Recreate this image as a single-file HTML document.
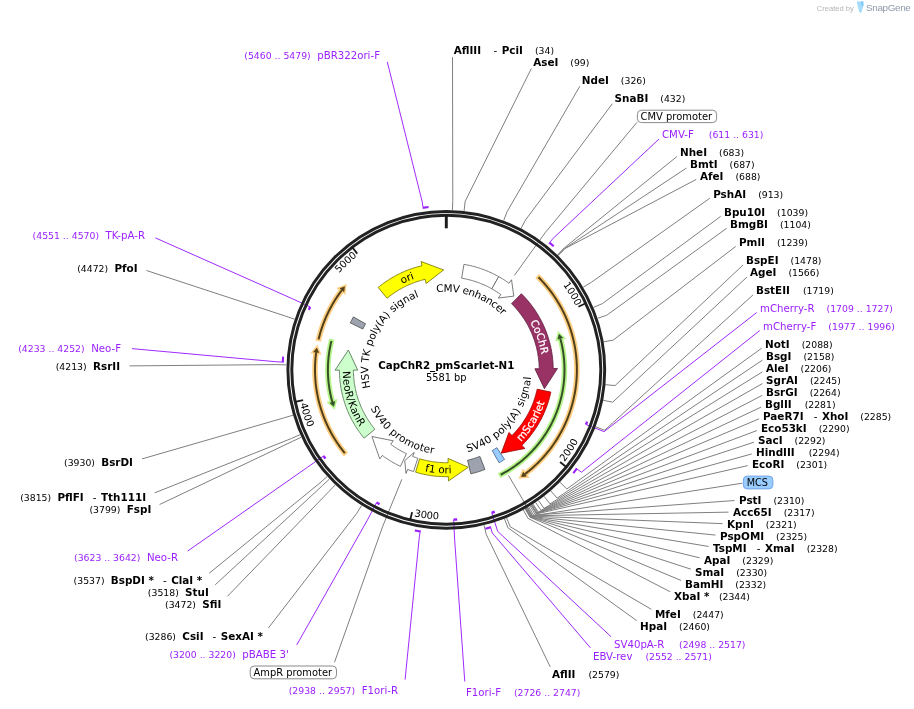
<!DOCTYPE html>
<html lang="en"><head><meta charset="utf-8"><title>CapChR2_pmScarlet-N1 map</title>
<style>html,body{margin:0;padding:0;background:#fff}svg{display:block;will-change:transform}</style></head>
<body>
<svg width="914" height="709" viewBox="0 0 914 709" font-family="'DejaVu Sans','Liberation Sans',sans-serif">
<rect width="914" height="709" fill="#fff"/>
<path d="M452.42,210.04 L452.79,200.42 L452.5,57.2" fill="none" stroke="#7f7f7f" stroke-width="1" stroke-linejoin="round"/>
<path d="M464.08,210.92 L465.15,201.35 L531.36,68.47" fill="none" stroke="#7f7f7f" stroke-width="1" stroke-linejoin="round"/>
<path d="M503.67,220.57 L507.12,211.59 L579.8,86.26" fill="none" stroke="#7f7f7f" stroke-width="1" stroke-linejoin="round"/>
<path d="M521.03,228.46 L525.53,219.95 L612.25,103.81" fill="none" stroke="#7f7f7f" stroke-width="1" stroke-linejoin="round"/>
<path d="M548.9,243.53 L553.19,238.25 L659.08,138.98" fill="none" stroke="#9a1fff" stroke-width="0.95" stroke-linejoin="round"/>
<path d="M557.47,254.91 L564.17,247.99 L676.84,156.59" fill="none" stroke="#7f7f7f" stroke-width="1" stroke-linejoin="round"/>
<path d="M557.99,255.41 L564.71,248.52 L686.53,168.03" fill="none" stroke="#7f7f7f" stroke-width="1" stroke-linejoin="round"/>
<path d="M558.12,255.53 L564.85,248.65 L696.24,179.41" fill="none" stroke="#7f7f7f" stroke-width="1" stroke-linejoin="round"/>
<path d="M583.19,287.2 L591.43,282.23 L709.84,198.22" fill="none" stroke="#7f7f7f" stroke-width="1" stroke-linejoin="round"/>
<path d="M593.49,307.38 L602.35,303.63 L720.69,216.33" fill="none" stroke="#7f7f7f" stroke-width="1" stroke-linejoin="round"/>
<path d="M597.66,318.31 L606.77,315.21 L726.67,228.28" fill="none" stroke="#7f7f7f" stroke-width="1" stroke-linejoin="round"/>
<path d="M603.71,341.82 L613.18,340.14 L735.75,246.43" fill="none" stroke="#7f7f7f" stroke-width="1" stroke-linejoin="round"/>
<path d="M605.48,384.67 L615.06,385.57 L743.08,264.98" fill="none" stroke="#7f7f7f" stroke-width="1" stroke-linejoin="round"/>
<path d="M603.23,400.34 L612.68,402.18 L747.06,276.95" fill="none" stroke="#7f7f7f" stroke-width="1" stroke-linejoin="round"/>
<path d="M595.67,426.79 L604.67,430.22 L753.02,294.89" fill="none" stroke="#7f7f7f" stroke-width="1" stroke-linejoin="round"/>
<path d="M585.68,424.42 L604.11,431.64 L756.77,312.47" fill="none" stroke="#9a1fff" stroke-width="0.95" stroke-linejoin="round"/>
<path d="M575.94,468.11 L581.36,472.22 L759.8,330.51" fill="none" stroke="#9a1fff" stroke-width="0.95" stroke-linejoin="round"/>
<path d="M559.97,482.23 L566.81,488.99 L761.65,348.25" fill="none" stroke="#7f7f7f" stroke-width="1" stroke-linejoin="round"/>
<path d="M550.76,490.83 L557.05,498.11 L762.54,360.05" fill="none" stroke="#7f7f7f" stroke-width="1" stroke-linejoin="round"/>
<path d="M544.07,496.29 L549.96,503.91 L762.44,371.83" fill="none" stroke="#7f7f7f" stroke-width="1" stroke-linejoin="round"/>
<path d="M538.43,500.46 L543.97,508.33 L762.33,383.6" fill="none" stroke="#7f7f7f" stroke-width="1" stroke-linejoin="round"/>
<path d="M535.61,502.4 L540.99,510.39 L762.22,395.35" fill="none" stroke="#7f7f7f" stroke-width="1" stroke-linejoin="round"/>
<path d="M533.06,504.09 L538.28,512.17 L761.11,407.1" fill="none" stroke="#7f7f7f" stroke-width="1" stroke-linejoin="round"/>
<path d="M532.45,504.48 L537.64,512.58 L759.01,418.84" fill="none" stroke="#7f7f7f" stroke-width="1" stroke-linejoin="round"/>
<path d="M531.69,504.96 L536.83,513.1 L756.92,430.56" fill="none" stroke="#7f7f7f" stroke-width="1" stroke-linejoin="round"/>
<path d="M531.39,505.15 L536.51,513.3 L753.83,442.26" fill="none" stroke="#7f7f7f" stroke-width="1" stroke-linejoin="round"/>
<path d="M531.08,505.34 L536.19,513.5 L751.74,453.94" fill="none" stroke="#7f7f7f" stroke-width="1" stroke-linejoin="round"/>
<path d="M530.01,506.01 L535.05,514.21 L747.67,465.62" fill="none" stroke="#7f7f7f" stroke-width="1" stroke-linejoin="round"/>
<path d="M528.63,506.85 L533.58,515.1 L734.52,500.53" fill="none" stroke="#7f7f7f" stroke-width="1" stroke-linejoin="round"/>
<path d="M527.55,507.49 L532.44,515.78 L728.5,512.14" fill="none" stroke="#7f7f7f" stroke-width="1" stroke-linejoin="round"/>
<path d="M526.92,507.86 L531.78,516.17 L722.51,523.64" fill="none" stroke="#7f7f7f" stroke-width="1" stroke-linejoin="round"/>
<path d="M526.3,508.22 L531.12,516.55 L715.53,535.08" fill="none" stroke="#7f7f7f" stroke-width="1" stroke-linejoin="round"/>
<path d="M525.83,508.49 L530.62,516.84 L708.59,546.48" fill="none" stroke="#7f7f7f" stroke-width="1" stroke-linejoin="round"/>
<path d="M525.68,508.58 L530.46,516.93 L699.69,557.83" fill="none" stroke="#7f7f7f" stroke-width="1" stroke-linejoin="round"/>
<path d="M525.52,508.67 L530.29,517.03 L690.83,569.15" fill="none" stroke="#7f7f7f" stroke-width="1" stroke-linejoin="round"/>
<path d="M525.21,508.84 L529.96,517.22 L681.02,580.44" fill="none" stroke="#7f7f7f" stroke-width="1" stroke-linejoin="round"/>
<path d="M523.32,509.9 L527.96,518.33 L670.23,591.77" fill="none" stroke="#7f7f7f" stroke-width="1" stroke-linejoin="round"/>
<path d="M506.6,517.87 L510.23,526.78 L651.38,609.36" fill="none" stroke="#7f7f7f" stroke-width="1" stroke-linejoin="round"/>
<path d="M504.42,518.74 L507.92,527.7 L636.68,620.63" fill="none" stroke="#7f7f7f" stroke-width="1" stroke-linejoin="round"/>
<path d="M491.67,512.46 L497.67,531.33 L611.1,636.69" fill="none" stroke="#9a1fff" stroke-width="0.95" stroke-linejoin="round"/>
<path d="M490.42,526.4 L492.26,532.95 L590.48,647.88" fill="none" stroke="#9a1fff" stroke-width="0.95" stroke-linejoin="round"/>
<path d="M484.01,525.16 L486.28,534.52 L550.2,666.8" fill="none" stroke="#7f7f7f" stroke-width="1" stroke-linejoin="round"/>
<path d="M453.63,519.32 L454.6,539.1 L464.78,681.53" fill="none" stroke="#9a1fff" stroke-width="0.95" stroke-linejoin="round"/>
<path d="M423.22,208.75 L422.26,202.01 L387.31,61.92" fill="none" stroke="#9a1fff" stroke-width="0.95" stroke-linejoin="round"/>
<path d="M310.39,307.04 L292.41,298.74 L155.37,237.86" fill="none" stroke="#9a1fff" stroke-width="0.95" stroke-linejoin="round"/>
<path d="M294.66,319.17 L285.53,316.12 L146.49,270.51" fill="none" stroke="#7f7f7f" stroke-width="1" stroke-linejoin="round"/>
<path d="M283.78,362.14 L276.99,361.82 L131.97,348.64" fill="none" stroke="#9a1fff" stroke-width="0.95" stroke-linejoin="round"/>
<path d="M286.5,364.9 L276.88,364.6 L129.5,365.9" fill="none" stroke="#7f7f7f" stroke-width="1" stroke-linejoin="round"/>
<path d="M293.01,415.2 L283.78,417.93 L141.99,458.91" fill="none" stroke="#7f7f7f" stroke-width="1" stroke-linejoin="round"/>
<path d="M300.15,434.61 L291.35,438.51 L154.59,492.89" fill="none" stroke="#7f7f7f" stroke-width="1" stroke-linejoin="round"/>
<path d="M301.34,437.23 L292.61,441.29 L159.58,504.53" fill="none" stroke="#7f7f7f" stroke-width="1" stroke-linejoin="round"/>
<path d="M323.78,455.82 L307.58,467.2 L187.7,551.02" fill="none" stroke="#9a1fff" stroke-width="0.95" stroke-linejoin="round"/>
<path d="M327.21,476.46 L320.04,482.88 L209.16,573.29" fill="none" stroke="#7f7f7f" stroke-width="1" stroke-linejoin="round"/>
<path d="M329.51,478.98 L322.48,485.56 L215.25,584.77" fill="none" stroke="#7f7f7f" stroke-width="1" stroke-linejoin="round"/>
<path d="M335.32,484.88 L328.64,491.81 L227.4,596.34" fill="none" stroke="#7f7f7f" stroke-width="1" stroke-linejoin="round"/>
<path d="M361.67,505.44 L356.57,513.6 L268.4,628" fill="none" stroke="#7f7f7f" stroke-width="1" stroke-linejoin="round"/>
<path d="M376.7,502.34 L367.5,519.87 L296.73,644.95" fill="none" stroke="#9a1fff" stroke-width="0.95" stroke-linejoin="round"/>
<path d="M420.39,530.42 L419.3,537.14 L405.08,679.6" fill="none" stroke="#9a1fff" stroke-width="0.95" stroke-linejoin="round"/>
<path d="M514.33,275.47 L545.45,232.32 L637,122.3" fill="none" stroke="#7f7f7f" stroke-width="1" stroke-linejoin="round"/>
<path d="M508.52,475.44 L532.33,515.85 L742.3,483.2" fill="none" stroke="#7f7f7f" stroke-width="1" stroke-linejoin="round"/>
<path d="M401.83,479.32 L382.53,526.85 L334.5,662.3" fill="none" stroke="#7f7f7f" stroke-width="1" stroke-linejoin="round"/>
<circle cx="446.3" cy="369.8" r="158.4" fill="none" stroke="#222222" stroke-width="2.95"/>
<circle cx="446.3" cy="369.8" r="154.5" fill="none" stroke="#222222" stroke-width="2.95"/>
<path d="M446.3,215.3 L446.3,228.3" stroke="#1a1a1a" stroke-width="2.9"/>
<path d="M585.75,303.3 L578.44,306.78" stroke="#1a1a1a" stroke-width="1.8"/>
<path id="tp1" d="M432.23,226.19 A144.3,144.3 0 0 1 566.75,449.26" fill="none"/>
<text font-size="9.9" fill="#000" font-weight="normal" text-anchor="middle"><textPath href="#tp1" startOffset="50%">1000</textPath></text>
<path d="M566.35,467.05 L560.06,461.95" stroke="#1a1a1a" stroke-width="1.8"/>
<path id="tp2" d="M426.4,518.37 A149.9,149.9 0 0 0 574.28,291.75" fill="none"/>
<text font-size="9.9" fill="#000" font-weight="normal" text-anchor="middle"><textPath href="#tp2" startOffset="50%">2000</textPath></text>
<path d="M410.2,520.02 L412.09,512.15" stroke="#1a1a1a" stroke-width="1.8"/>
<path id="tp3" d="M303.63,415.79 A149.9,149.9 0 0 0 571.84,451.72" fill="none"/>
<text font-size="9.9" fill="#000" font-weight="normal" text-anchor="middle"><textPath href="#tp3" startOffset="50%">3000</textPath></text>
<path d="M295.17,401.87 L303.09,400.19" stroke="#1a1a1a" stroke-width="1.8"/>
<path id="tp4" d="M343.38,260.82 A149.9,149.9 0 0 0 426.4,518.37" fill="none"/>
<text font-size="9.9" fill="#000" font-weight="normal" text-anchor="middle"><textPath href="#tp4" startOffset="50%">4000</textPath></text>
<path d="M352.3,247.19 L357.22,253.62" stroke="#1a1a1a" stroke-width="1.8"/>
<path id="tp5" d="M308.74,413.38 A144.3,144.3 0 0 1 499.03,235.48" fill="none"/>
<text font-size="9.9" fill="#000" font-weight="normal" text-anchor="middle"><textPath href="#tp5" startOffset="50%">5000</textPath></text>
<path d="M549.53,242.75 L550.24,243.33 L550.95,243.92 L551.65,244.5 L552.35,245.1 L553.05,245.69 L553.74,246.29" fill="none" stroke="#9a1fff" stroke-width="2.1"/>
<path d="M585.96,424.53 L586.23,423.82 L586.51,423.11 L586.77,422.4 L587.04,421.69" fill="none" stroke="#9a1fff" stroke-width="2.4"/>
<path d="M576.73,468.72 L576.18,469.45 L575.62,470.17 L575.05,470.89 L574.49,471.61 L573.91,472.33 L573.34,473.04" fill="none" stroke="#9a1fff" stroke-width="2.1"/>
<path d="M491.76,512.75 L492.52,512.5 L493.29,512.25 L494.05,512 L494.81,511.74" fill="none" stroke="#9a1fff" stroke-width="2.4"/>
<path d="M490.69,527.37 L489.81,527.61 L488.92,527.85 L488.04,528.09 L487.15,528.32 L486.26,528.55 L485.37,528.77" fill="none" stroke="#9a1fff" stroke-width="2.1"/>
<path d="M453.64,519.62 L454.35,519.58 L455.06,519.54 L455.77,519.5 L456.48,519.45 L457.18,519.4" fill="none" stroke="#9a1fff" stroke-width="2.4"/>
<path d="M423.08,207.76 L423.99,207.63 L424.9,207.51 L425.8,207.39 L426.71,207.28 L427.63,207.17 L428.54,207.07" fill="none" stroke="#9a1fff" stroke-width="2.1"/>
<path d="M310.12,306.92 L309.78,307.64 L309.45,308.38 L309.13,309.11 L308.8,309.84" fill="none" stroke="#9a1fff" stroke-width="2.4"/>
<path d="M282.78,362.09 L282.83,361.18 L282.88,360.26 L282.93,359.35 L283,358.43 L283.06,357.52 L283.13,356.61" fill="none" stroke="#9a1fff" stroke-width="2.1"/>
<path d="M323.54,456 L324,456.65 L324.47,457.3 L324.94,457.95 L325.41,458.6" fill="none" stroke="#9a1fff" stroke-width="2.4"/>
<path d="M376.56,502.6 L377.16,502.92 L377.76,503.23 L378.36,503.53 L378.97,503.84 L379.57,504.14" fill="none" stroke="#9a1fff" stroke-width="2.4"/>
<path d="M420.23,531.41 L419.32,531.26 L418.42,531.11 L417.52,530.95 L416.61,530.79 L415.71,530.62 L414.81,530.44" fill="none" stroke="#9a1fff" stroke-width="2.1"/>
<path d="M463.94,264.37 L465.35,264.61 L466.75,264.87 L468.14,265.16 L469.54,265.46 L470.92,265.77 L472.31,266.11 L473.69,266.47 L475.06,266.84 L476.43,267.23 L477.79,267.64 L479.15,268.07 L480.51,268.52 L481.85,268.99 L483.19,269.47 L484.53,269.97 L485.85,270.49 L487.17,271.02 L488.48,271.58 L489.79,272.15 L491.09,272.73 L492.38,273.34 L493.66,273.96 L494.93,274.6 L496.19,275.26 L497.45,275.93 L498.7,276.62 L491.83,288.82 L490.75,288.22 L489.66,287.64 L488.56,287.07 L487.46,286.51 L486.34,285.97 L485.22,285.45 L484.09,284.94 L482.96,284.44 L481.82,283.96 L480.67,283.49 L479.52,283.04 L478.36,282.61 L477.2,282.19 L476.03,281.78 L474.85,281.4 L473.67,281.02 L472.48,280.67 L471.29,280.33 L470.1,280 L468.9,279.69 L467.7,279.4 L466.49,279.12 L465.28,278.86 L464.07,278.62 L462.85,278.39 L461.63,278.17Z" fill="#ffffff" stroke="#5a5a5a" stroke-width="0.8" stroke-linejoin="miter"/>
<path d="M498.7,276.62 L499.88,277.3 L501.06,277.99 L502.22,278.69 L503.38,279.41 L504.53,280.15 L505.66,280.9 L506.79,281.66 L507.91,282.44 L509.02,283.23 L511.54,279.75 L513.79,296.15 L498.28,298.05 L500.81,294.57 L499.84,293.88 L498.87,293.21 L497.89,292.54 L496.9,291.89 L495.9,291.25 L494.9,290.63 L493.88,290.01 L492.86,289.41 L491.83,288.82Z" fill="#ffffff" stroke="#5a5a5a" stroke-width="0.8" stroke-linejoin="miter"/>
<path d="M521.36,293.68 L522.38,294.7 L523.38,295.73 L524.37,296.78 L525.35,297.83 L526.31,298.9 L527.25,299.99 L528.19,301.08 L529.1,302.19 L530.01,303.31 L530.89,304.44 L531.76,305.59 L532.62,306.74 L533.46,307.91 L534.29,309.09 L535.1,310.28 L535.89,311.48 L536.66,312.69 L537.42,313.91 L538.17,315.14 L538.9,316.38 L539.61,317.63 L540.3,318.89 L540.98,320.16 L541.64,321.44 L542.28,322.73 L542.9,324.02 L543.51,325.33 L544.1,326.64 L544.67,327.96 L545.22,329.28 L545.76,330.62 L546.28,331.96 L546.78,333.31 L547.26,334.67 L547.72,336.03 L548.17,337.39 L548.6,338.77 L549.01,340.15 L549.39,341.53 L549.77,342.92 L550.12,344.32 L550.45,345.72 L550.77,347.12 L551.06,348.53 L551.34,349.94 L551.6,351.35 L551.84,352.77 L552.05,354.19 L552.26,355.62 L552.44,357.04 L552.6,358.47 L552.74,359.91 L552.86,361.34 L552.97,362.77 L553.05,364.21 L553.12,365.65 L553.17,367.08 L553.19,368.52 L557.49,368.47 L544.4,388.69 L534.89,368.74 L539.19,368.69 L539.17,367.44 L539.13,366.19 L539.07,364.94 L539,363.69 L538.91,362.45 L538.8,361.2 L538.68,359.96 L538.54,358.72 L538.38,357.48 L538.2,356.24 L538.01,355 L537.81,353.77 L537.58,352.54 L537.34,351.31 L537.08,350.09 L536.81,348.87 L536.52,347.65 L536.22,346.44 L535.89,345.23 L535.55,344.03 L535.2,342.83 L534.83,341.64 L534.44,340.45 L534.04,339.27 L533.62,338.09 L533.19,336.92 L532.74,335.75 L532.27,334.59 L531.79,333.44 L531.29,332.29 L530.78,331.15 L530.25,330.02 L529.71,328.89 L529.15,327.77 L528.58,326.66 L527.99,325.56 L527.39,324.46 L526.77,323.38 L526.14,322.3 L525.49,321.23 L524.83,320.17 L524.16,319.11 L523.47,318.07 L522.76,317.04 L522.05,316.01 L521.32,315 L520.57,314 L519.81,313 L519.04,312.02 L518.26,311.04 L517.46,310.08 L516.65,309.13 L515.83,308.19 L514.99,307.26 L514.15,306.34 L513.29,305.43 L512.41,304.54 L511.53,303.65Z" fill="#993366" stroke="#5a1a3a" stroke-width="0.8" stroke-linejoin="miter"/>
<path d="M550.84,392.12 L550.54,393.51 L550.21,394.91 L549.86,396.29 L549.5,397.68 L549.12,399.06 L548.72,400.43 L548.3,401.8 L547.86,403.16 L547.41,404.51 L546.93,405.86 L546.44,407.21 L545.93,408.54 L545.4,409.87 L544.86,411.2 L544.3,412.51 L543.72,413.82 L543.12,415.12 L542.5,416.41 L541.87,417.69 L541.22,418.97 L540.56,420.23 L539.87,421.49 L539.17,422.74 L538.46,423.97 L537.72,425.2 L536.97,426.42 L536.21,427.63 L535.43,428.83 L534.63,430.01 L533.82,431.19 L532.99,432.36 L532.14,433.51 L531.28,434.65 L530.41,435.78 L529.52,436.9 L528.61,438.01 L527.69,439.11 L526.76,440.19 L525.81,441.26 L524.84,442.32 L523.87,443.36 L522.88,444.39 L521.87,445.41 L524.91,448.45 L501.29,453.2 L508.93,432.47 L511.97,435.51 L512.85,434.62 L513.71,433.73 L514.56,432.82 L515.39,431.9 L516.22,430.97 L517.03,430.03 L517.83,429.08 L518.62,428.11 L519.39,427.14 L520.15,426.16 L520.9,425.17 L521.63,424.16 L522.35,423.15 L523.06,422.13 L523.75,421.1 L524.43,420.05 L525.1,419 L525.75,417.95 L526.39,416.88 L527.01,415.8 L527.62,414.72 L528.21,413.63 L528.79,412.53 L529.36,411.42 L529.9,410.3 L530.44,409.18 L530.96,408.05 L531.46,406.92 L531.95,405.77 L532.43,404.63 L532.88,403.47 L533.33,402.31 L533.75,401.14 L534.17,399.97 L534.56,398.79 L534.94,397.61 L535.31,396.42 L535.65,395.22 L535.99,394.03 L536.3,392.82 L536.6,391.62 L536.89,390.41 L537.15,389.19Z" fill="#ff0000" stroke="#9a0000" stroke-width="0.8" stroke-linejoin="miter"/>
<path d="M504.52,459.45 L503.45,460.14 L502.38,460.81 L501.29,461.47 L500.2,462.12 L499.1,462.75 L492.19,450.58 L493.14,450.03 L494.09,449.46 L495.03,448.89 L495.97,448.31 L496.9,447.71Z" fill="#99ccff" stroke="#3f5f80" stroke-width="0.8" stroke-linejoin="miter"/>
<path d="M484.96,469.47 L483.7,469.95 L482.43,470.41 L481.16,470.86 L479.88,471.29 L478.6,471.7 L477.31,472.1 L476.02,472.49 L474.72,472.85 L473.42,473.2 L472.11,473.54 L470.8,473.85 L467.59,460.23 L468.73,459.95 L469.87,459.66 L471,459.36 L472.13,459.04 L473.25,458.71 L474.37,458.36 L475.48,458 L476.59,457.62 L477.7,457.23 L478.8,456.83 L479.89,456.41Z" fill="#9da3ae" stroke="#4a4a4a" stroke-width="0.8" stroke-linejoin="miter"/>
<path d="M415.58,472.19 L416.91,472.58 L418.24,472.95 L419.58,473.31 L420.93,473.64 L422.27,473.96 L423.62,474.27 L424.98,474.55 L426.34,474.82 L427.7,475.07 L429.07,475.3 L430.43,475.52 L431.81,475.71 L433.18,475.89 L434.55,476.05 L435.93,476.2 L437.31,476.32 L438.69,476.43 L440.07,476.52 L441.46,476.59 L442.84,476.64 L444.23,476.68 L445.61,476.7 L446.99,476.7 L448.38,476.68 L448.46,480.98 L468.26,467.26 L448.02,458.38 L448.11,462.68 L446.9,462.7 L445.7,462.7 L444.5,462.68 L443.29,462.65 L442.09,462.6 L440.89,462.54 L439.69,462.46 L438.49,462.37 L437.29,462.26 L436.09,462.14 L434.9,462 L433.7,461.84 L432.51,461.67 L431.32,461.48 L430.14,461.28 L428.95,461.07 L427.77,460.83 L426.59,460.59 L425.42,460.32 L424.25,460.05 L423.08,459.75 L421.92,459.44 L420.76,459.12 L419.6,458.78Z" fill="#ffff00" stroke="#6f6f00" stroke-width="0.8" stroke-linejoin="miter"/>
<path d="M400.45,466.37 L399.18,465.75 L397.91,465.12 L396.66,464.47 L395.41,463.81 L394.17,463.13 L392.95,462.43 L391.73,461.72 L390.52,460.99 L389.32,460.25 L388.13,459.49 L386.95,458.71 L385.78,457.92 L384.62,457.11 L383.48,456.29 L382.34,455.45 L379.77,458.9 L371.94,436.52 L393.29,440.79 L390.72,444.24 L391.7,444.96 L392.7,445.68 L393.71,446.38 L394.72,447.07 L395.75,447.74 L396.78,448.4 L397.82,449.05 L398.88,449.68 L399.93,450.3 L401,450.91 L402.08,451.5 L403.16,452.08 L404.25,452.64 L405.35,453.19 L406.45,453.72Z" fill="#ffffff" stroke="#5a5a5a" stroke-width="0.8" stroke-linejoin="miter"/>
<path d="M413.53,471.55 L412.34,471.16 L411.14,470.75 L409.96,470.33 L408.78,469.9 L407.6,469.45 L406.04,473.46 L404.71,460.63 L414.22,452.39 L412.67,456.4 L413.69,456.79 L414.72,457.17 L415.75,457.53 L416.78,457.89 L417.82,458.23Z" fill="#ffffff" stroke="#5a5a5a" stroke-width="0.8" stroke-linejoin="miter"/>
<path d="M364.11,438.16 L363.21,437.06 L362.32,435.95 L361.45,434.83 L360.6,433.7 L359.76,432.55 L358.93,431.4 L358.12,430.23 L357.33,429.06 L356.55,427.87 L355.78,426.67 L355.04,425.46 L354.31,424.25 L353.59,423.02 L352.89,421.79 L352.21,420.54 L351.54,419.29 L350.9,418.02 L350.26,416.75 L349.65,415.47 L349.05,414.19 L348.47,412.89 L347.91,411.59 L347.36,410.28 L346.83,408.96 L346.32,407.64 L345.83,406.31 L345.35,404.97 L344.89,403.62 L344.45,402.27 L344.03,400.92 L343.63,399.56 L343.24,398.19 L342.87,396.82 L342.52,395.45 L342.19,394.07 L341.88,392.68 L341.58,391.29 L341.31,389.9 L341.05,388.5 L340.81,387.1 L340.59,385.7 L340.39,384.3 L340.2,382.89 L340.04,381.48 L339.89,380.07 L339.77,378.65 L339.66,377.24 L339.57,375.82 L339.5,374.4 L339.45,372.98 L339.41,371.57 L339.4,370.15 L335.1,370.16 L348.37,350.05 L357.7,370.09 L353.4,370.1 L353.41,371.33 L353.44,372.57 L353.49,373.8 L353.55,375.03 L353.63,376.26 L353.72,377.49 L353.83,378.72 L353.96,379.95 L354.1,381.17 L354.26,382.4 L354.43,383.62 L354.63,384.84 L354.83,386.05 L355.06,387.27 L355.3,388.48 L355.55,389.68 L355.82,390.89 L356.11,392.09 L356.42,393.28 L356.74,394.47 L357.07,395.66 L357.42,396.84 L357.79,398.02 L358.17,399.19 L358.57,400.36 L358.98,401.52 L359.41,402.68 L359.86,403.83 L360.32,404.98 L360.79,406.12 L361.28,407.25 L361.79,408.37 L362.31,409.49 L362.84,410.6 L363.39,411.71 L363.95,412.81 L364.53,413.9 L365.12,414.98 L365.73,416.05 L366.35,417.12 L366.99,418.17 L367.64,419.22 L368.3,420.26 L368.98,421.3 L369.67,422.32 L370.37,423.33 L371.09,424.33 L371.82,425.33 L372.57,426.31 L373.32,427.29 L374.09,428.25 L374.87,429.2Z" fill="#ccffcc" stroke="#4a6a4a" stroke-width="0.8" stroke-linejoin="miter"/>
<path d="M350.26,322.85 L350.86,321.65 L351.47,320.46 L352.1,319.27 L352.74,318.09 L353.4,316.92 L365.56,323.84 L364.99,324.86 L364.43,325.89 L363.89,326.92 L363.36,327.96 L362.84,329Z" fill="#9da3ae" stroke="#4a4a4a" stroke-width="0.8" stroke-linejoin="miter"/>
<path d="M378.16,287.43 L379.25,286.54 L380.36,285.66 L381.47,284.8 L382.6,283.95 L383.74,283.12 L384.89,282.3 L386.05,281.5 L387.22,280.71 L388.4,279.94 L389.59,279.18 L390.79,278.44 L392,277.72 L393.22,277.01 L394.45,276.32 L395.69,275.64 L396.94,274.98 L398.19,274.34 L399.46,273.71 L400.73,273.1 L402.01,272.51 L403.3,271.93 L404.59,271.37 L405.89,270.83 L407.2,270.31 L408.52,269.8 L409.84,269.31 L411.17,268.84 L412.51,268.38 L413.85,267.94 L415.2,267.53 L416.55,267.12 L417.91,266.74 L419.27,266.37 L420.64,266.03 L422.01,265.7 L421.03,261.51 L443.6,269.94 L426.17,283.52 L425.19,279.33 L424,279.62 L422.81,279.92 L421.62,280.24 L420.44,280.57 L419.27,280.92 L418.1,281.28 L416.93,281.66 L415.77,282.06 L414.62,282.47 L413.47,282.9 L412.32,283.34 L411.19,283.79 L410.05,284.26 L408.93,284.75 L407.81,285.25 L406.7,285.76 L405.59,286.29 L404.49,286.84 L403.4,287.4 L402.32,287.97 L401.24,288.56 L400.17,289.16 L399.11,289.78 L398.06,290.41 L397.02,291.05 L395.98,291.71 L394.96,292.38 L393.94,293.06 L392.93,293.76 L391.93,294.47 L390.94,295.19 L389.96,295.93 L388.99,296.68 L388.03,297.44 L387.08,298.22Z" fill="#ffff00" stroke="#6f6f00" stroke-width="0.8" stroke-linejoin="miter"/>
<path d="M537.2,276.03 L538.46,277.26 L539.7,278.52 L540.92,279.78 L542.13,281.07 L543.32,282.37 L544.49,283.69 L545.64,285.02 L546.78,286.37 L547.89,287.73 L548.99,289.11 L550.07,290.5 L551.13,291.91 L552.17,293.33 L553.19,294.76 L554.2,296.21 L555.18,297.68 L556.14,299.15 L557.08,300.64 L558.01,302.14 L558.91,303.65 L559.79,305.18 L560.65,306.72 L561.49,308.26 L562.31,309.82 L563.11,311.39 L563.89,312.98 L564.65,314.57 L565.38,316.17 L566.09,317.78 L566.78,319.4 L567.45,321.03 L568.1,322.67 L568.72,324.32 L569.33,325.97 L569.91,327.64 L570.46,329.31 L571,330.99 L571.51,332.67 L572,334.37 L572.47,336.06 L572.91,337.77 L573.33,339.48 L573.73,341.2 L574.1,342.92 L574.45,344.65 L574.78,346.38 L575.09,348.11 L575.37,349.85 L575.62,351.59 L575.86,353.34 L576.07,355.09 L576.26,356.84 L576.42,358.6 L576.56,360.35 L576.67,362.11 L576.77,363.87 L576.83,365.63 L576.88,367.39 L576.9,369.15 L576.9,370.92 L576.87,372.68 L576.82,374.44 L576.74,376.2 L576.64,377.96 L576.52,379.72 L576.38,381.47 L576.21,383.23 L576.02,384.98 L575.8,386.73 L575.56,388.47 L575.29,390.21 L575.01,391.95 L574.7,393.69 L574.36,395.42 L574.01,397.14 L573.63,398.86 L573.22,400.58 L572.79,402.29 L572.34,403.99 L571.87,405.69 L571.38,407.38 L570.86,409.06 L570.32,410.74 L569.75,412.41 L569.17,414.07 L568.56,415.72 L567.93,417.37 L567.28,419.01 L566.6,420.63 L565.9,422.25 L565.19,423.86 L564.45,425.46 L563.68,427.05 L562.9,428.63 L562.1,430.19 L561.27,431.75 L560.42,433.3 L559.56,434.83 L558.67,436.35 L557.76,437.86 L556.83,439.36 L555.89,440.85 L554.92,442.32 L553.93,443.78 L552.92,445.22 L551.89,446.65 L550.85,448.07 L549.78,449.47 L548.7,450.86 L547.59,452.24 L546.47,453.6 L545.33,454.94 L544.18,456.27 L543,457.58 L541.81,458.88 L540.6,460.16 L539.37,461.42 L538.13,462.67 L536.86,463.9 L535.59,465.11 L534.29,466.31 L532.98,467.49 L531.66,468.65 L530.32,469.79 L528.96,470.91 L527.59,472.02 L526.2,473.11 L524.8,474.18" fill="none" stroke="#fdce82" stroke-width="5.5"/>
<path d="M526.3,476.17 L521.4,476.65 L523.3,472.18Z" fill="#fdce82" stroke="#fdce82" stroke-width="3.6" stroke-linejoin="miter" stroke-miterlimit="6"/>
<path d="M538.49,277.29 L539.73,278.54 L540.95,279.81 L542.15,281.1 L543.34,282.4 L544.51,283.71 L545.66,285.05 L546.8,286.39 L547.91,287.76 L549.01,289.14 L550.09,290.53 L551.15,291.94 L552.19,293.36 L553.21,294.79 L554.21,296.24 L555.2,297.7 L556.16,299.18 L557.1,300.67 L558.02,302.17 L558.93,303.68 L559.81,305.21 L560.67,306.74 L561.51,308.29 L562.33,309.85 L563.13,311.42 L563.9,313 L564.66,314.59 L565.39,316.2 L566.1,317.81 L566.79,319.43 L567.46,321.06 L568.11,322.7 L568.73,324.34 L569.34,326 L569.92,327.66 L570.47,329.33 L571.01,331.01 L571.52,332.7 L572.01,334.39 L572.47,336.09 L572.92,337.79 L573.34,339.51 L573.73,341.22 L574.11,342.94 L574.46,344.67 L574.79,346.4 L575.09,348.14 L575.37,349.88 L575.63,351.62 L575.86,353.36 L576.07,355.11 L576.26,356.87 L576.42,358.62 L576.56,360.38 L576.67,362.13 L576.77,363.89 L576.83,365.65 L576.88,367.41 L576.9,369.18 L576.9,370.94 L576.87,372.7 L576.82,374.46 L576.74,376.22 L576.64,377.98 L576.52,379.74 L576.38,381.49 L576.21,383.24 L576.01,385 L575.8,386.74 L575.56,388.49 L575.29,390.23 L575,391.97 L574.69,393.7 L574.36,395.43 L574,397.16 L573.62,398.88 L573.22,400.59 L572.79,402.3 L572.34,404.01 L571.87,405.7 L571.37,407.39 L570.85,409.08 L570.31,410.75 L569.75,412.42 L569.16,414.08 L568.55,415.74 L567.92,417.38 L567.27,419.02 L566.6,420.64 L565.9,422.26 L565.18,423.87 L564.44,425.47 L563.68,427.06 L562.9,428.64 L562.09,430.2 L561.27,431.76 L560.42,433.31 L559.55,434.84 L558.67,436.36 L557.76,437.87 L556.83,439.37 L555.88,440.85 L554.91,442.32 L553.92,443.78 L552.92,445.23 L551.89,446.66 L550.84,448.08 L549.78,449.48 L548.69,450.87 L547.59,452.24 L546.47,453.6 L545.33,454.94 L544.17,456.27 L543,457.58 L541.8,458.88 L540.59,460.16 L539.37,461.42 L538.12,462.67 L536.86,463.9 L535.58,465.11 L534.29,466.31 L532.98,467.49 L531.66,468.65 L530.31,469.79 L528.96,470.91 L527.59,472.02 L526.2,473.11 L524.8,474.18" fill="none" stroke="#524018" stroke-width="2"/>
<path d="M526.3,476.17 L521.4,476.65 L523.3,472.18Z" fill="#524018" stroke="#524018" stroke-width="0.6" stroke-linejoin="miter"/>
<path d="M499.09,475.56 L500.51,474.83 L501.93,474.09 L503.33,473.33 L504.72,472.55 L506.1,471.75 L507.47,470.94 L508.83,470.1 L510.18,469.25 L511.52,468.38 L512.84,467.49 L514.16,466.58 L515.46,465.66 L516.74,464.72 L518.02,463.76 L519.28,462.78 L520.53,461.79 L521.76,460.78 L522.98,459.75 L524.19,458.71 L525.38,457.65 L526.56,456.57 L527.73,455.48 L528.88,454.37 L530.01,453.25 L531.13,452.11 L532.23,450.96 L533.32,449.79 L534.39,448.61 L535.45,447.42 L536.49,446.2 L537.51,444.98 L538.52,443.74 L539.51,442.49 L540.48,441.23 L541.43,439.95 L542.37,438.66 L543.29,437.36 L544.2,436.04 L545.08,434.71 L545.95,433.37 L546.8,432.02 L547.63,430.66 L548.44,429.29 L549.23,427.9 L550.01,426.51 L550.76,425.1 L551.5,423.69 L552.22,422.26 L552.92,420.83 L553.6,419.39 L554.26,417.93 L554.9,416.47 L555.52,415 L556.12,413.52 L556.7,412.04 L557.26,410.54 L557.8,409.04 L558.32,407.53 L558.81,406.02 L559.29,404.5 L559.75,402.97 L560.19,401.43 L560.61,399.89 L561,398.35 L561.38,396.8 L561.73,395.24 L562.06,393.68 L562.37,392.12 L562.67,390.55 L562.93,388.97 L563.18,387.4 L563.41,385.82 L563.62,384.24 L563.8,382.65 L563.96,381.06 L564.1,379.48 L564.22,377.88 L564.32,376.29 L564.4,374.7 L564.45,373.1 L564.49,371.51 L564.5,369.91 L564.49,368.32 L564.46,366.72 L564.41,365.13 L564.33,363.53 L564.24,361.94 L564.12,360.35 L563.98,358.76 L563.82,357.17 L563.64,355.59 L563.44,354.01 L563.22,352.43 L562.97,350.85 L562.7,349.28 L562.42,347.71 L562.11,346.14 L561.78,344.58 L561.43,343.02 L561.06,341.47 L560.66,339.93 L560.25,338.39" fill="none" stroke="#b6f58a" stroke-width="5.5"/>
<path d="M562.66,337.72 L559.06,334.36 L557.84,339.05Z" fill="#b6f58a" stroke="#b6f58a" stroke-width="3.6" stroke-linejoin="miter" stroke-miterlimit="6"/>
<path d="M500.7,474.74 L502.11,474 L503.5,473.24 L504.89,472.45 L506.27,471.66 L507.64,470.84 L509,470 L510.34,469.15 L511.68,468.27 L513,467.38 L514.31,466.48 L515.6,465.55 L516.89,464.61 L518.16,463.65 L519.42,462.67 L520.66,461.68 L521.9,460.67 L523.11,459.64 L524.32,458.59 L525.51,457.54 L526.68,456.46 L527.84,455.37 L528.99,454.26 L530.12,453.14 L531.24,452 L532.34,450.85 L533.42,449.68 L534.49,448.5 L535.54,447.3 L536.58,446.09 L537.6,444.87 L538.6,443.63 L539.59,442.38 L540.56,441.12 L541.51,439.84 L542.45,438.55 L543.37,437.25 L544.27,435.93 L545.15,434.61 L546.02,433.27 L546.86,431.92 L547.69,430.56 L548.5,429.18 L549.29,427.8 L550.06,426.41 L550.82,425 L551.55,423.59 L552.27,422.17 L552.96,420.73 L553.64,419.29 L554.3,417.84 L554.94,416.38 L555.55,414.91 L556.15,413.43 L556.73,411.95 L557.29,410.45 L557.83,408.95 L558.34,407.45 L558.84,405.93 L559.32,404.41 L559.77,402.89 L560.21,401.35 L560.63,399.82 L561.02,398.27 L561.39,396.72 L561.75,395.17 L562.08,393.61 L562.39,392.05 L562.68,390.48 L562.95,388.91 L563.19,387.34 L563.42,385.76 L563.62,384.18 L563.81,382.6 L563.97,381.01 L564.11,379.42 L564.23,377.83 L564.32,376.24 L564.4,374.65 L564.46,373.06 L564.49,371.47 L564.5,369.87 L564.49,368.28 L564.46,366.69 L564.41,365.09 L564.33,363.5 L564.24,361.91 L564.12,360.32 L563.98,358.73 L563.82,357.15 L563.64,355.57 L563.44,353.99 L563.21,352.41 L562.97,350.83 L562.7,349.26 L562.41,347.7 L562.11,346.13 L561.78,344.57 L561.43,343.02 L561.05,341.47 L560.66,339.92 L560.25,338.39" fill="none" stroke="#355026" stroke-width="2"/>
<path d="M562.66,337.72 L559.06,334.36 L557.84,339.05Z" fill="#355026" stroke="#355026" stroke-width="0.6" stroke-linejoin="miter"/>
<path d="M345.99,454.52 L344.86,453.16 L343.75,451.79 L342.65,450.4 L341.57,449 L340.52,447.58 L339.48,446.15 L338.46,444.7 L337.46,443.24 L336.48,441.77 L335.52,440.28 L334.58,438.78 L333.66,437.27 L332.76,435.75 L331.89,434.21 L331.03,432.67 L330.19,431.11 L329.38,429.54 L328.58,427.96 L327.81,426.37 L327.06,424.77 L326.33,423.15 L325.62,421.53 L324.94,419.9 L324.27,418.26 L323.63,416.62 L323.01,414.96 L322.41,413.29 L321.84,411.62 L321.29,409.94 L320.76,408.25 L320.25,406.56 L319.77,404.86 L319.31,403.15 L318.87,401.43 L318.45,399.72 L318.06,397.99 L317.69,396.26 L317.35,394.53 L317.03,392.79 L316.73,391.04 L316.46,389.29 L316.2,387.54 L315.98,385.79 L315.77,384.03 L315.59,382.27 L315.44,380.51 L315.31,378.75 L315.2,376.98 L315.11,375.21 L315.05,373.45 L315.01,371.68 L315,369.91 L315.01,368.14 L315.04,366.37 L315.1,364.6 L315.18,362.84 L315.29,361.07 L315.42,359.31 L315.57,357.55 L315.75,355.79 L315.95,354.03 L316.17,352.27" fill="none" stroke="#fdce82" stroke-width="5.5"/>
<path d="M313.7,351.94 L316.8,348.12 L318.65,352.61Z" fill="#fdce82" stroke="#fdce82" stroke-width="3.6" stroke-linejoin="miter" stroke-miterlimit="6"/>
<path d="M344.84,453.14 L343.73,451.77 L342.63,450.38 L341.56,448.97 L340.5,447.56 L339.46,446.12 L338.44,444.68 L337.45,443.22 L336.47,441.75 L335.51,440.26 L334.57,438.76 L333.65,437.25 L332.75,435.73 L331.87,434.19 L331.02,432.65 L330.18,431.09 L329.37,429.52 L328.57,427.94 L327.8,426.35 L327.05,424.75 L326.32,423.14 L325.61,421.51 L324.93,419.88 L324.26,418.25 L323.62,416.6 L323,414.94 L322.41,413.28 L321.83,411.6 L321.28,409.92 L320.75,408.24 L320.25,406.54 L319.76,404.84 L319.3,403.13 L318.86,401.42 L318.45,399.7 L318.06,397.98 L317.69,396.25 L317.35,394.51 L317.03,392.77 L316.73,391.03 L316.45,389.28 L316.2,387.53 L315.98,385.78 L315.77,384.02 L315.59,382.26 L315.44,380.5 L315.3,378.74 L315.2,376.97 L315.11,375.21 L315.05,373.44 L315.01,371.67 L315,369.9 L315.01,368.14 L315.04,366.37 L315.1,364.6 L315.18,362.83 L315.29,361.07 L315.42,359.31 L315.57,357.54 L315.75,355.78 L315.95,354.03 L316.17,352.27" fill="none" stroke="#524018" stroke-width="2"/>
<path d="M313.7,351.94 L316.8,348.12 L318.65,352.61Z" fill="#524018" stroke="#524018" stroke-width="0.6" stroke-linejoin="miter"/>
<path d="M318.17,341.13 L318.57,339.4 L318.99,337.68 L319.44,335.96 L319.9,334.25 L320.4,332.55 L320.91,330.85 L321.45,329.16 L322.01,327.48 L322.59,325.8 L323.2,324.14 L323.82,322.48 L324.47,320.83 L325.15,319.19 L325.84,317.56 L326.56,315.94 L327.29,314.33 L328.05,312.72 L328.84,311.13 L329.64,309.55 L330.46,307.98 L331.31,306.42 L332.17,304.88 L333.06,303.34 L333.97,301.82 L334.9,300.31 L335.85,298.81 L336.81,297.33 L337.8,295.85 L338.81,294.4 L339.84,292.95 L340.89,291.52 L341.95,290.1" fill="none" stroke="#fdce82" stroke-width="5.5"/>
<path d="M339.97,288.59 L344.56,286.81 L343.94,291.62Z" fill="#fdce82" stroke="#fdce82" stroke-width="3.6" stroke-linejoin="miter" stroke-miterlimit="6"/>
<path d="M318.57,339.37 L319,337.65 L319.44,335.94 L319.91,334.23 L320.4,332.52 L320.92,330.83 L321.45,329.14 L322.01,327.46 L322.6,325.79 L323.2,324.12 L323.83,322.46 L324.48,320.81 L325.15,319.17 L325.85,317.54 L326.56,315.92 L327.3,314.31 L328.06,312.71 L328.84,311.12 L329.64,309.54 L330.47,307.97 L331.31,306.42 L332.18,304.87 L333.07,303.33 L333.97,301.81 L334.9,300.3 L335.85,298.81 L336.82,297.32 L337.8,295.85 L338.81,294.39 L339.84,292.95 L340.89,291.52 L341.95,290.1" fill="none" stroke="#524018" stroke-width="2"/>
<path d="M339.97,288.59 L344.56,286.81 L343.94,291.62Z" fill="#524018" stroke="#524018" stroke-width="0.6" stroke-linejoin="miter"/>
<path d="M331.92,339.21 L331.52,340.76 L331.14,342.31 L330.78,343.86 L330.44,345.42 L330.12,346.99 L329.82,348.55 L329.55,350.13 L329.29,351.7 L329.06,353.28 L328.85,354.86 L328.66,356.45 L328.49,358.03 L328.34,359.62 L328.21,361.21 L328.11,362.8 L328.02,364.4 L327.96,365.99 L327.92,367.59 L327.9,369.18 L327.9,370.78 L327.93,372.38 L327.97,373.97 L328.04,375.56 L328.13,377.16 L328.24,378.75 L328.37,380.34 L328.52,381.93 L328.7,383.52 L328.89,385.1 L329.11,386.68 L329.35,388.26 L329.61,389.83 L329.89,391.4 L330.19,392.97 L330.51,394.53 L330.86,396.09 L331.22,397.65 L331.61,399.19 L332.01,400.74 L332.44,402.27" fill="none" stroke="#b6f58a" stroke-width="5.5"/>
<path d="M330.04,402.96 L333.66,406.29 L334.84,401.59Z" fill="#b6f58a" stroke="#b6f58a" stroke-width="3.6" stroke-linejoin="miter" stroke-miterlimit="6"/>
<path d="M331.47,340.96 L331.09,342.5 L330.73,344.05 L330.4,345.61 L330.08,347.17 L329.79,348.73 L329.52,350.3 L329.27,351.87 L329.04,353.44 L328.83,355.02 L328.64,356.6 L328.47,358.18 L328.33,359.76 L328.2,361.35 L328.1,362.94 L328.02,364.52 L327.96,366.11 L327.92,367.7 L327.9,369.29 L327.9,370.88 L327.93,372.47 L327.98,374.06 L328.04,375.65 L328.13,377.24 L328.24,378.83 L328.38,380.41 L328.53,382 L328.7,383.58 L328.9,385.16 L329.12,386.73 L329.35,388.3 L329.61,389.87 L329.89,391.44 L330.2,393 L330.52,394.56 L330.86,396.11 L331.22,397.66 L331.61,399.2 L332.01,400.74 L332.44,402.27" fill="none" stroke="#355026" stroke-width="2"/>
<path d="M330.04,402.96 L333.66,406.29 L334.84,401.59Z" fill="#355026" stroke="#355026" stroke-width="0.6" stroke-linejoin="miter"/>
<path id="tp6" d="M456.53,274.04 A96.3,96.3 0 0 1 514.27,438.02" fill="none"/>
<text font-size="10.4" fill="#fff" font-weight="normal" text-anchor="middle" stroke="#fff" stroke-width="0.25"><textPath href="#tp6" startOffset="50%">CoChR</textPath></text>
<path id="tp7" d="M435.99,472.99 A103.7,103.7 0 0 0 532.97,312.86" fill="none"/>
<text font-size="10.4" fill="#fff" font-weight="normal" text-anchor="middle" stroke="#fff" stroke-width="0.25"><textPath href="#tp7" startOffset="50%">mScarlet</textPath></text>
<path id="tp8" d="M349.88,365.93 A96.5,96.5 0 0 1 510,297.31" fill="none"/>
<text font-size="10.4" fill="#000" font-weight="normal" text-anchor="middle"><textPath href="#tp8" startOffset="50%">ori</textPath></text>
<path id="tp9" d="M349.58,406.92 A103.6,103.6 0 0 0 536.02,421.59" fill="none"/>
<text font-size="10.4" fill="#000" font-weight="normal" text-anchor="middle"><textPath href="#tp9" startOffset="50%">f1 ori</textPath></text>
<path id="tp10" d="M376.05,293.66 A103.6,103.6 0 0 0 431.35,472.32" fill="none"/>
<text font-size="10.4" fill="#000" font-weight="normal" text-anchor="middle" letter-spacing="0.12"><textPath href="#tp10" startOffset="50%">NeoR/KanR</textPath></text>
<path id="tp11" d="M390.95,314.84 A78,78 0 0 1 523.84,361.38" fill="none"/>
<text font-size="10.4" fill="#000" font-weight="normal" text-anchor="middle" letter-spacing="-0.3"><textPath href="#tp11" startOffset="50%">CMV enhancer</textPath></text>
<path id="tp12" d="M424.65,452 A85,85 0 0 0 523.8,334.88" fill="none"/>
<text font-size="10.4" fill="#000" font-weight="normal" text-anchor="middle" letter-spacing="0.17"><textPath href="#tp12" startOffset="50%">SV40 poly(A) signal</textPath></text>
<path id="tp13" d="M362.67,354.6 A85,85 0 0 0 487.12,444.35" fill="none"/>
<text font-size="10.4" fill="#000" font-weight="normal" text-anchor="middle" letter-spacing="0.2"><textPath href="#tp13" startOffset="50%">SV40 promoter</textPath></text>
<path id="tp14" d="M383.52,416.09 A78,78 0 0 1 449.84,291.88" fill="none"/>
<text font-size="10.4" fill="#000" font-weight="normal" text-anchor="middle"><textPath href="#tp14" startOffset="50%">HSV TK poly(A) signal</textPath></text>
<text x="446.3" y="369" font-size="10.3" font-weight="bold" text-anchor="middle">CapChR2_pmScarlet-N1</text>
<text x="446.3" y="381" font-size="9.8" text-anchor="middle">5581 bp</text>
<text x="453.7" y="54" fill="#000" xml:space="preserve"><tspan font-size="10.4" font-weight="bold">AflIII</tspan><tspan font-size="10.4" font-weight="normal" dx="12.45">-</tspan><tspan font-size="10.4" font-weight="bold" dx="4.5">PciI</tspan><tspan font-size="9.3" font-weight="normal" dx="12">(34)</tspan></text>
<text x="533.2" y="66" fill="#000" xml:space="preserve"><tspan font-size="10.4" font-weight="bold">AseI</tspan><tspan font-size="9.3" font-weight="normal" dx="12">(99)</tspan></text>
<text x="581.8" y="84" fill="#000" xml:space="preserve"><tspan font-size="10.4" font-weight="bold">NdeI</tspan><tspan font-size="9.3" font-weight="normal" dx="12">(326)</tspan></text>
<text x="614.6" y="102" fill="#000" xml:space="preserve"><tspan font-size="10.4" font-weight="bold">SnaBI</tspan><tspan font-size="9.3" font-weight="normal" dx="12">(432)</tspan></text>
<rect x="637.4" y="110.2" width="79.2" height="12.4" rx="4" fill="#fff" stroke="#8a8a8a" stroke-width="1"/>
<text x="676.3" y="120.1" font-size="9.95" text-anchor="middle">CMV promoter</text>
<text x="662" y="138" fill="#9a1fff" xml:space="preserve"><tspan font-size="10.2" font-weight="normal">CMV-F</tspan><tspan font-size="9.3" font-weight="normal" dx="15">(611 .. 631)</tspan></text>
<text x="680" y="156" fill="#000" xml:space="preserve"><tspan font-size="10.4" font-weight="bold">NheI</tspan><tspan font-size="9.3" font-weight="normal" dx="12">(683)</tspan></text>
<text x="690" y="168" fill="#000" xml:space="preserve"><tspan font-size="10.4" font-weight="bold">BmtI</tspan><tspan font-size="9.3" font-weight="normal" dx="12">(687)</tspan></text>
<text x="700" y="180" fill="#000" xml:space="preserve"><tspan font-size="10.4" font-weight="bold">AfeI</tspan><tspan font-size="9.3" font-weight="normal" dx="12">(688)</tspan></text>
<text x="713.2" y="198" fill="#000" xml:space="preserve"><tspan font-size="10.4" font-weight="bold">PshAI</tspan><tspan font-size="9.3" font-weight="normal" dx="12">(913)</tspan></text>
<text x="724" y="216" fill="#000" xml:space="preserve"><tspan font-size="10.4" font-weight="bold">Bpu10I</tspan><tspan font-size="9.3" font-weight="normal" dx="12">(1039)</tspan></text>
<text x="730" y="228" fill="#000" xml:space="preserve"><tspan font-size="10.4" font-weight="bold">BmgBI</tspan><tspan font-size="9.3" font-weight="normal" dx="12">(1104)</tspan></text>
<text x="739" y="246" fill="#000" xml:space="preserve"><tspan font-size="10.4" font-weight="bold">PmlI</tspan><tspan font-size="9.3" font-weight="normal" dx="12">(1239)</tspan></text>
<text x="746" y="264" fill="#000" xml:space="preserve"><tspan font-size="10.4" font-weight="bold">BspEI</tspan><tspan font-size="9.3" font-weight="normal" dx="12">(1478)</tspan></text>
<text x="750" y="276" fill="#000" xml:space="preserve"><tspan font-size="10.4" font-weight="bold">AgeI</tspan><tspan font-size="9.3" font-weight="normal" dx="12">(1566)</tspan></text>
<text x="756" y="294" fill="#000" xml:space="preserve"><tspan font-size="10.4" font-weight="bold">BstEII</tspan><tspan font-size="9.3" font-weight="normal" dx="13">(1719)</tspan></text>
<text x="760" y="312" fill="#9a1fff" xml:space="preserve"><tspan font-size="10.2" font-weight="normal">mCherry-R</tspan><tspan font-size="9.3" font-weight="normal" dx="12">(1709 .. 1727)</tspan></text>
<text x="763" y="330" fill="#9a1fff" xml:space="preserve"><tspan font-size="10.2" font-weight="normal">mCherry-F</tspan><tspan font-size="9.3" font-weight="normal" dx="12">(1977 .. 1996)</tspan></text>
<text x="765" y="348" fill="#000" xml:space="preserve"><tspan font-size="10.4" font-weight="bold">NotI</tspan><tspan font-size="9.3" font-weight="normal" dx="12">(2088)</tspan></text>
<text x="766" y="360" fill="#000" xml:space="preserve"><tspan font-size="10.4" font-weight="bold">BsgI</tspan><tspan font-size="9.3" font-weight="normal" dx="12">(2158)</tspan></text>
<text x="766" y="372" fill="#000" xml:space="preserve"><tspan font-size="10.4" font-weight="bold">AleI</tspan><tspan font-size="9.3" font-weight="normal" dx="12">(2206)</tspan></text>
<text x="766" y="384" fill="#000" xml:space="preserve"><tspan font-size="10.4" font-weight="bold">SgrAI</tspan><tspan font-size="9.3" font-weight="normal" dx="12">(2245)</tspan></text>
<text x="766" y="396" fill="#000" xml:space="preserve"><tspan font-size="10.4" font-weight="bold">BsrGI</tspan><tspan font-size="9.3" font-weight="normal" dx="12">(2264)</tspan></text>
<text x="765" y="408" fill="#000" xml:space="preserve"><tspan font-size="10.4" font-weight="bold">BglII</tspan><tspan font-size="9.3" font-weight="normal" dx="13">(2281)</tspan></text>
<text x="763" y="420" fill="#000" xml:space="preserve"><tspan font-size="10.4" font-weight="bold">PaeR7I</tspan><tspan font-size="10.4" font-weight="normal" dx="10.15">-</tspan><tspan font-size="10.4" font-weight="bold" dx="4.5">XhoI</tspan><tspan font-size="9.3" font-weight="normal" dx="12">(2285)</tspan></text>
<text x="761" y="432" fill="#000" xml:space="preserve"><tspan font-size="10.4" font-weight="bold">Eco53kI</tspan><tspan font-size="9.3" font-weight="normal" dx="12">(2290)</tspan></text>
<text x="758" y="444" fill="#000" xml:space="preserve"><tspan font-size="10.4" font-weight="bold">SacI</tspan><tspan font-size="9.3" font-weight="normal" dx="12">(2292)</tspan></text>
<text x="756" y="456" fill="#000" xml:space="preserve"><tspan font-size="10.4" font-weight="bold">HindIII</tspan><tspan font-size="9.3" font-weight="normal" dx="14">(2294)</tspan></text>
<text x="752" y="468" fill="#000" xml:space="preserve"><tspan font-size="10.4" font-weight="bold">EcoRI</tspan><tspan font-size="9.3" font-weight="normal" dx="12">(2301)</tspan></text>
<rect x="743.3" y="476.1" width="29.6" height="12.8" rx="4" fill="#99ccff" stroke="#74a6e6" stroke-width="1"/>
<text x="757.3" y="486.2" font-size="9.7" text-anchor="middle">MCS</text>
<text x="739" y="504" fill="#000" xml:space="preserve"><tspan font-size="10.4" font-weight="bold">PstI</tspan><tspan font-size="9.3" font-weight="normal" dx="12">(2310)</tspan></text>
<text x="733" y="516" fill="#000" xml:space="preserve"><tspan font-size="10.4" font-weight="bold">Acc65I</tspan><tspan font-size="9.3" font-weight="normal" dx="12">(2317)</tspan></text>
<text x="727" y="528" fill="#000" xml:space="preserve"><tspan font-size="10.4" font-weight="bold">KpnI</tspan><tspan font-size="9.3" font-weight="normal" dx="12">(2321)</tspan></text>
<text x="720" y="540" fill="#000" xml:space="preserve"><tspan font-size="10.4" font-weight="bold">PspOMI</tspan><tspan font-size="9.3" font-weight="normal" dx="12">(2325)</tspan></text>
<text x="713" y="552" fill="#000" xml:space="preserve"><tspan font-size="10.4" font-weight="bold">TspMI</tspan><tspan font-size="10.4" font-weight="normal" dx="10.15">-</tspan><tspan font-size="10.4" font-weight="bold" dx="4.5">XmaI</tspan><tspan font-size="9.3" font-weight="normal" dx="12">(2328)</tspan></text>
<text x="704" y="564" fill="#000" xml:space="preserve"><tspan font-size="10.4" font-weight="bold">ApaI</tspan><tspan font-size="9.3" font-weight="normal" dx="12">(2329)</tspan></text>
<text x="695" y="576" fill="#000" xml:space="preserve"><tspan font-size="10.4" font-weight="bold">SmaI</tspan><tspan font-size="9.3" font-weight="normal" dx="12">(2330)</tspan></text>
<text x="685" y="588" fill="#000" xml:space="preserve"><tspan font-size="10.4" font-weight="bold">BamHI</tspan><tspan font-size="9.3" font-weight="normal" dx="12">(2332)</tspan></text>
<text x="674" y="600" fill="#000" xml:space="preserve"><tspan font-size="10.4" font-weight="bold">XbaI *</tspan><tspan font-size="9.3" font-weight="normal" dx="9.5">(2344)</tspan></text>
<text x="655" y="618" fill="#000" xml:space="preserve"><tspan font-size="10.4" font-weight="bold">MfeI</tspan><tspan font-size="9.3" font-weight="normal" dx="12">(2447)</tspan></text>
<text x="640" y="630" fill="#000" xml:space="preserve"><tspan font-size="10.4" font-weight="bold">HpaI</tspan><tspan font-size="9.3" font-weight="normal" dx="12">(2460)</tspan></text>
<text x="614" y="648" fill="#9a1fff" xml:space="preserve"><tspan font-size="10.2" font-weight="normal">SV40pA-R</tspan><tspan font-size="9.3" font-weight="normal" dx="14.7">(2498 .. 2517)</tspan></text>
<text x="593" y="660" fill="#9a1fff" xml:space="preserve"><tspan font-size="10.2" font-weight="normal">EBV-rev</tspan><tspan font-size="9.3" font-weight="normal" dx="13">(2552 .. 2571)</tspan></text>
<text x="552" y="678" fill="#000" xml:space="preserve"><tspan font-size="10.4" font-weight="bold">AflII</tspan><tspan font-size="9.3" font-weight="normal" dx="13">(2579)</tspan></text>
<text x="466" y="696" fill="#9a1fff" xml:space="preserve"><tspan font-size="10.2" font-weight="normal">F1ori-F</tspan><tspan font-size="9.3" font-weight="normal" dx="12.8">(2726 .. 2747)</tspan></text>
<text x="380" y="59" fill="#9a1fff" text-anchor="end" xml:space="preserve"><tspan font-size="9.3" font-weight="normal">(5460 .. 5479)</tspan><tspan font-size="10.2" font-weight="normal" dx="6.5">pBR322ori-F</tspan></text>
<text x="145" y="239" fill="#9a1fff" text-anchor="end" xml:space="preserve"><tspan font-size="9.3" font-weight="normal">(4551 .. 4570)</tspan><tspan font-size="10.2" font-weight="normal" dx="6.5">TK-pA-R</tspan></text>
<text x="137.6" y="272.3" fill="#000" text-anchor="end" xml:space="preserve"><tspan font-size="9.3" font-weight="normal">(4472)</tspan><tspan font-size="10.4" font-weight="bold" dx="6.3">PfoI</tspan></text>
<text x="121" y="352" fill="#9a1fff" text-anchor="end" xml:space="preserve"><tspan font-size="9.3" font-weight="normal">(4233 .. 4252)</tspan><tspan font-size="10.2" font-weight="normal" dx="6.5">Neo-F</tspan></text>
<text x="120" y="370" fill="#000" text-anchor="end" xml:space="preserve"><tspan font-size="9.3" font-weight="normal">(4213)</tspan><tspan font-size="10.4" font-weight="bold" dx="6.3">RsrII</tspan></text>
<text x="133" y="466" fill="#000" text-anchor="end" xml:space="preserve"><tspan font-size="9.3" font-weight="normal">(3930)</tspan><tspan font-size="10.4" font-weight="bold" dx="6.3">BsrDI</tspan></text>
<text x="146" y="501" fill="#000" text-anchor="end" xml:space="preserve"><tspan font-size="9.3" font-weight="normal">(3815)</tspan><tspan font-size="10.4" font-weight="bold" dx="6.3">PflFI</tspan><tspan font-size="10.4" font-weight="normal" dx="9">-</tspan><tspan font-size="10.4" font-weight="bold" dx="4.5">Tth111I</tspan></text>
<text x="151.3" y="513.3" fill="#000" text-anchor="end" xml:space="preserve"><tspan font-size="9.3" font-weight="normal">(3799)</tspan><tspan font-size="10.4" font-weight="bold" dx="6.3">FspI</tspan></text>
<text x="178" y="561" fill="#9a1fff" text-anchor="end" xml:space="preserve"><tspan font-size="9.3" font-weight="normal">(3623 .. 3642)</tspan><tspan font-size="10.2" font-weight="normal" dx="6.5">Neo-R</tspan></text>
<text x="202.3" y="584.3" fill="#000" text-anchor="end" xml:space="preserve"><tspan font-size="9.3" font-weight="normal">(3537)</tspan><tspan font-size="10.4" font-weight="bold" dx="6.3">BspDI *</tspan><tspan font-size="10.4" font-weight="normal" dx="9">-</tspan><tspan font-size="10.4" font-weight="bold" dx="4.5">ClaI *</tspan></text>
<text x="208.8" y="596.3" fill="#000" text-anchor="end" xml:space="preserve"><tspan font-size="9.3" font-weight="normal">(3518)</tspan><tspan font-size="10.4" font-weight="bold" dx="6.3">StuI</tspan></text>
<text x="221.3" y="608.3" fill="#000" text-anchor="end" xml:space="preserve"><tspan font-size="9.3" font-weight="normal">(3472)</tspan><tspan font-size="10.4" font-weight="bold" dx="6.3">SfiI</tspan></text>
<text x="263" y="640" fill="#000" text-anchor="end" xml:space="preserve"><tspan font-size="9.3" font-weight="normal">(3286)</tspan><tspan font-size="10.4" font-weight="bold" dx="6.3">CsiI</tspan><tspan font-size="10.4" font-weight="normal" dx="9">-</tspan><tspan font-size="10.4" font-weight="bold" dx="4.5">SexAI *</tspan></text>
<text x="288.7" y="658" fill="#9a1fff" text-anchor="end" xml:space="preserve"><tspan font-size="9.3" font-weight="normal">(3200 .. 3220)</tspan><tspan font-size="10.2" font-weight="normal" dx="6.5">pBABE 3'</tspan></text>
<rect x="250.2" y="666" width="86.3" height="12.8" rx="4" fill="#fff" stroke="#8a8a8a" stroke-width="1"/>
<text x="292.8" y="676.4" font-size="9.9" text-anchor="middle">AmpR promoter</text>
<text x="398" y="694" fill="#9a1fff" text-anchor="end" xml:space="preserve"><tspan font-size="9.3" font-weight="normal">(2938 .. 2957)</tspan><tspan font-size="10.2" font-weight="normal" dx="6.5">F1ori-R</tspan></text>
<text x="816.7" y="10.9" font-size="7.6" fill="#b4b4b4" font-family="'Liberation Sans',sans-serif">Created by</text>
<path d="M856.6,1.6 L863.4,1.6 L863.4,5.2 L861.6,12 Q860.4,13.4 859.2,12 Z" fill="#a6dcfa"/>
<path d="M860.6,1.6 L863.4,1.6 L863.4,5.4 L862.2,7 Z" fill="#7cc8f4"/>
<text x="866" y="11.1" font-size="9.9" fill="#8e98a8" font-family="'Liberation Sans',sans-serif" letter-spacing="-0.35">SnapGene</text>
</svg>
</body></html>
